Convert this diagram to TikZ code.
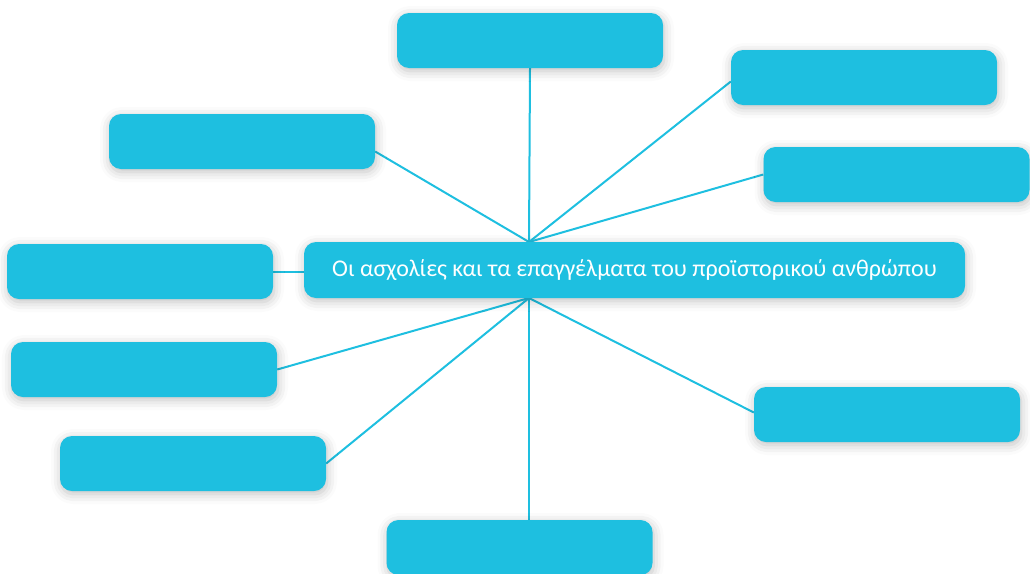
\documentclass[tikz,border=0pt]{standalone}
\usepackage{fontspec}
\setmainfont{Carlito}
\usetikzlibrary{shadows.blur,calc,backgrounds}
\definecolor{boxcyan}{HTML}{1EBFE0}
\tikzset{
  box/.style={fill=boxcyan, rounded corners=12pt, minimum width=266pt, minimum height=55pt, inner sep=0pt,
    blur shadow={shadow xshift=1pt, shadow yshift=-3pt, shadow blur radius=10pt, shadow opacity=25}},
  link/.style={draw=boxcyan, line width=2pt}
}
\begin{document}
\begin{tikzpicture}[x=1pt,y=-1pt]
\useasboundingbox (0,0) rectangle (1030,573);
\node[box] (b1) at (530,40.5) {};
\node[box] (b2) at (864,77.5) {};
\node[box] (b3) at (896.5,174.5) {};
\node[box] (b4) at (242,141.5) {};
\node[box] (b5) at (140,271.5) {};
\node[box, minimum width=661pt, minimum height=56pt, text=white, font=\fontsize{24}{28}\selectfont] (c) at (634.5,270) {Οι ασχολίες και τα επαγγέλματα του προϊστορικού ανθρώπου};
\node[box] (b7) at (144,369.5) {};
\node[box] (b8) at (193,463.5) {};
\node[box] (b9) at (519.5,547.5) {};
\node[box] (b10) at (887,414.5) {};
\coordinate (hubT) at (529,242);
\coordinate (hubB) at (529,298);
\begin{scope}[on background layer]
\draw[link] (b1.south) -- (hubT);
\draw[link] ([yshift=-4pt]b2.west) -- (hubT);
\draw[link] (b3.west) -- (hubT);
\draw[link] ([yshift=-10pt]b4.east) -- (hubT);
\draw[link] (b5.east) -- (b5.east -| c.west);
\draw[link] (b7.east) -- (hubB);
\draw[link] (b8.east) -- (hubB);
\draw[link] (b9.north -| hubB) -- (hubB);
\draw[link] ([yshift=2pt]b10.west) -- (hubB);
\end{scope}
\end{tikzpicture}
\end{document}
